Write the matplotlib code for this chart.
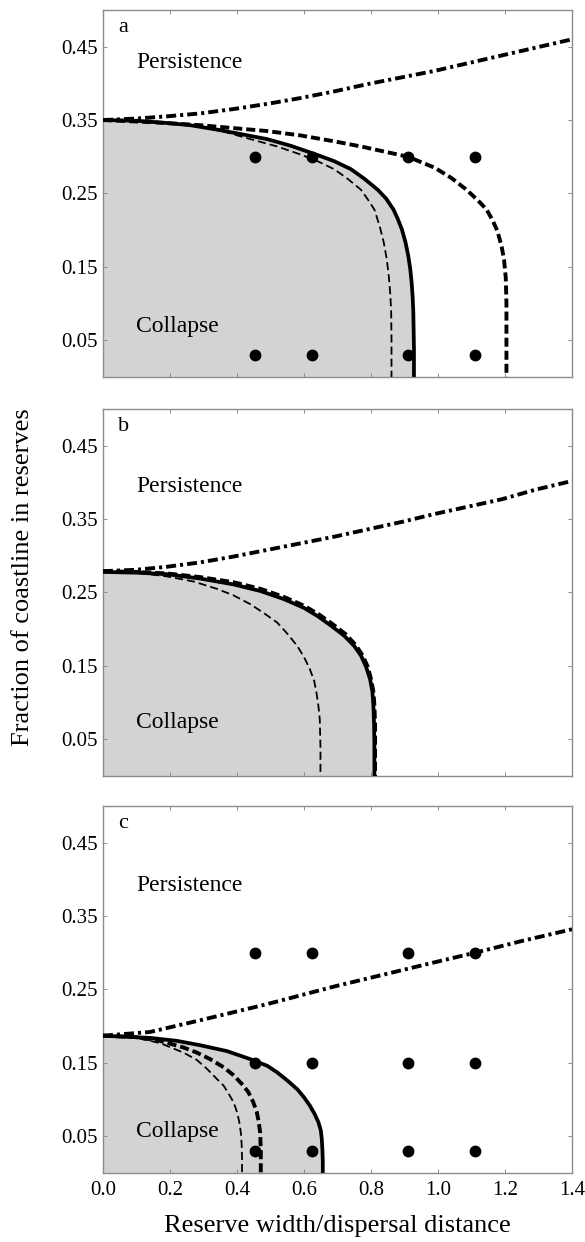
import matplotlib
matplotlib.use("Agg")
import matplotlib.pyplot as plt

plt.rcParams["font.family"] = ["Liberation Serif", "DejaVu Serif"]
plt.rcParams["lines.scale_dashes"] = False

# =====================================================
# Axis / tick values
# =====================================================

x_ticks = [0.0, 0.2, 0.4, 0.6, 0.8, 1.0, 1.2, 1.4]
y_ticks = [0.05, 0.15, 0.25, 0.35, 0.45]
panel_letters = ["a", "b", "c"]

# =====================================================
# Panel a curves
# =====================================================

a_solid_x = [0.00, 0.10, 0.19, 0.26, 0.34, 0.41, 0.49, 0.56, 0.63, 0.69, 0.74,
             0.78, 0.82, 0.845, 0.867, 0.88, 0.892, 0.903, 0.911, 0.917, 0.921,
             0.924, 0.926, 0.928, 0.928]
a_solid_y = [0.350, 0.349, 0.346, 0.343, 0.337, 0.331, 0.324, 0.315, 0.304,
             0.294, 0.283, 0.270, 0.255, 0.243, 0.228, 0.215, 0.201, 0.183,
             0.165, 0.147, 0.129, 0.110, 0.090, 0.040, 0.000]

a_thin_x = [0.00, 0.10, 0.19, 0.29, 0.37, 0.44, 0.52, 0.59, 0.64, 0.69, 0.73,
            0.77, 0.79, 0.81, 0.826, 0.838, 0.847, 0.853, 0.857, 0.860, 0.861,
            0.861]
a_thin_y = [0.350, 0.349, 0.346, 0.341, 0.333, 0.324, 0.314, 0.303, 0.294,
            0.283, 0.270, 0.255, 0.242, 0.228, 0.205, 0.183, 0.160, 0.137,
            0.115, 0.090, 0.050, 0.000]

a_thick_x = [0.00, 0.15, 0.29, 0.39, 0.49, 0.59, 0.69, 0.77, 0.84, 0.91, 0.99,
             1.04, 1.085, 1.12, 1.145, 1.163, 1.177, 1.190, 1.197, 1.202,
             1.204, 1.204]
a_thick_y = [0.350, 0.347, 0.343, 0.339, 0.335, 0.329, 0.321, 0.314, 0.307,
             0.300, 0.285, 0.271, 0.255, 0.240, 0.228, 0.213, 0.199, 0.177,
             0.159, 0.135, 0.100, 0.000]

a_dd_x = [0.00, 0.10, 0.19, 0.29, 0.39, 0.49, 0.59, 0.69, 0.79, 0.99, 1.19, 1.40]
a_dd_y = [0.350, 0.352, 0.355, 0.359, 0.365, 0.372, 0.380, 0.389, 0.399,
          0.417, 0.438, 0.460]

# =====================================================
# Panel b curves
# =====================================================

b_solid_x = [0.00, 0.10, 0.19, 0.29, 0.39, 0.47, 0.54, 0.60, 0.64, 0.68, 0.72,
             0.75, 0.77, 0.785, 0.797, 0.804, 0.807, 0.809, 0.810, 0.810]
b_solid_y = [0.278, 0.277, 0.275, 0.269, 0.261, 0.252, 0.241, 0.229, 0.218,
             0.205, 0.191, 0.177, 0.164, 0.149, 0.132, 0.115, 0.096, 0.070,
             0.040, 0.000]

b_thick_x = [0.00, 0.10, 0.19, 0.29, 0.39, 0.47, 0.54, 0.60, 0.645, 0.685,
             0.725, 0.755, 0.775, 0.79, 0.80, 0.807, 0.81, 0.812, 0.812, 0.812]
b_thick_y = [0.279, 0.278, 0.276, 0.271, 0.264, 0.255, 0.244, 0.232, 0.220,
             0.207, 0.193, 0.178, 0.164, 0.149, 0.132, 0.115, 0.096, 0.070,
             0.040, 0.000]

b_thin_x = [0.00, 0.10, 0.19, 0.27, 0.34, 0.39, 0.44, 0.48, 0.52, 0.55, 0.58,
            0.60, 0.617, 0.63, 0.637, 0.643, 0.647, 0.649, 0.649]
b_thin_y = [0.278, 0.277, 0.272, 0.265, 0.255, 0.246, 0.234, 0.222, 0.209,
            0.194, 0.177, 0.162, 0.146, 0.130, 0.114, 0.095, 0.077, 0.040,
            0.000]

b_dd_x = [0.00, 0.10, 0.19, 0.29, 0.39, 0.49, 0.59, 0.69, 0.79, 0.89, 0.99,
          1.09, 1.19, 1.29, 1.40]
b_dd_y = [0.279, 0.281, 0.285, 0.291, 0.299, 0.308, 0.317, 0.326, 0.336,
          0.346, 0.357, 0.367, 0.377, 0.390, 0.402]

# =====================================================
# Panel c curves
# =====================================================

c_solid_x = [0.00, 0.14, 0.22, 0.29, 0.37, 0.44, 0.49, 0.52, 0.55, 0.58, 0.60,
             0.617, 0.632, 0.643, 0.65, 0.653, 0.655, 0.656, 0.656]
c_solid_y = [0.187, 0.184, 0.180, 0.174, 0.166, 0.155, 0.146, 0.137, 0.126,
             0.114, 0.103, 0.092, 0.080, 0.069, 0.058, 0.046, 0.030, 0.015,
             0.000]

c_thick_x = [0.00, 0.10, 0.17, 0.24, 0.28, 0.32, 0.36, 0.39, 0.415, 0.434,
             0.448, 0.459, 0.465, 0.469, 0.471, 0.471]
c_thick_y = [0.187, 0.185, 0.180, 0.171, 0.164, 0.155, 0.144, 0.133, 0.121,
             0.110, 0.097, 0.083, 0.069, 0.055, 0.030, 0.000]

c_thin_x = [0.00, 0.10, 0.17, 0.24, 0.28, 0.31, 0.34, 0.36, 0.375, 0.39, 0.40,
            0.407, 0.412, 0.414, 0.415, 0.415]
c_thin_y = [0.187, 0.184, 0.177, 0.164, 0.154, 0.142, 0.128, 0.119, 0.108,
            0.096, 0.083, 0.069, 0.053, 0.037, 0.020, 0.000]

c_dd_x = [0.00, 0.14, 0.29, 0.39, 0.49, 0.59, 0.69, 0.79, 0.89, 0.99, 1.11,
          1.25, 1.40]
c_dd_y = [0.187, 0.192, 0.208, 0.219, 0.230, 0.242, 0.254, 0.265, 0.276,
          0.287, 0.300, 0.316, 0.332]

# =====================================================
# Simulation points
# =====================================================

dot_x = [0.455, 0.625, 0.91, 1.11]
a_dot_y = [0.30, 0.03]
b_dot_y = []
c_dot_y = [0.30, 0.15, 0.03]

# text positions (data coords) per panel
persist_y = [0.429, 0.395, 0.392]
collapse_y = [0.069, 0.073, 0.057]

panels = [
    (a_solid_x, a_solid_y, a_thin_x, a_thin_y, a_thick_x, a_thick_y,
     a_dd_x, a_dd_y, a_dot_y),
    (b_solid_x, b_solid_y, b_thin_x, b_thin_y, b_thick_x, b_thick_y,
     b_dd_x, b_dd_y, b_dot_y),
    (c_solid_x, c_solid_y, c_thin_x, c_thin_y, c_thick_x, c_thick_y,
     c_dd_x, c_dd_y, c_dot_y),
]

fig = plt.figure(figsize=(5.85, 12.42), dpi=100)

bottoms = [0.6965, 0.3752, 0.0556]
frame_col = "#8c8c8c"

for i, (sx, sy, tx, ty, kx, ky, dx, dy, dots_y) in enumerate(panels):

    ax = fig.add_axes([0.176, bottoms[i], 0.802, 0.2955])

    # collapse region
    ax.fill_betweenx(sy, 0, sx, color="#d3d3d3", lw=0, zorder=1)

    ax.plot(tx, ty, color="black", lw=1.3, dashes=(5.8, 2.9), zorder=3)
    ax.plot(kx, ky, color="black", lw=2.8, dashes=(6.5, 2.9), zorder=3)
    ax.plot(sx, sy, color="black", lw=2.7, solid_capstyle="butt",
            solid_joinstyle="round", zorder=4)
    ax.plot(dx, dy, color="black", lw=2.8, dashes=(7.2, 2.9, 2.2, 2.9),
            zorder=3)

    for yv in dots_y:
        ax.plot(dot_x, [yv] * len(dot_x), "o", color="black", ms=7.5, zorder=5)

    ax.text(0.10, persist_y[i], "Persistence", fontsize=17,
            ha="left", va="center")
    ax.text(0.10, collapse_y[i], "Collapse", fontsize=17,
            ha="left", va="center", zorder=6)
    ax.text(0.045, 0.476, panel_letters[i], fontsize=16,
            ha="left", va="center")

    ax.set_xlim(0, 1.4)
    ax.set_ylim(0, 0.5)
    ax.set_xticks(x_ticks)
    ax.set_yticks(y_ticks)
    ax.set_yticklabels(["%.2f" % v for v in y_ticks])

    ax.tick_params(direction="in", top=True, right=True, length=3,
                   width=0.7, color=frame_col, labelsize=15, pad=4)
    if i < 2:
        ax.tick_params(labelbottom=False)
    else:
        ax.set_xticklabels(["%.1f" % v for v in x_ticks])
        ax.tick_params(axis="x", pad=6)

    for sp in ax.spines.values():
        sp.set_color(frame_col)
        sp.set_linewidth(1.0)

fig.text(0.040, 0.5354, "Fraction of coastline in reserves", fontsize=19,
         rotation=90, ha="center", va="center")
fig.text(0.577, 0.0129, "Reserve width/dispersal distance", fontsize=19,
         ha="center", va="center")

fig.savefig("out.png", dpi=100)
